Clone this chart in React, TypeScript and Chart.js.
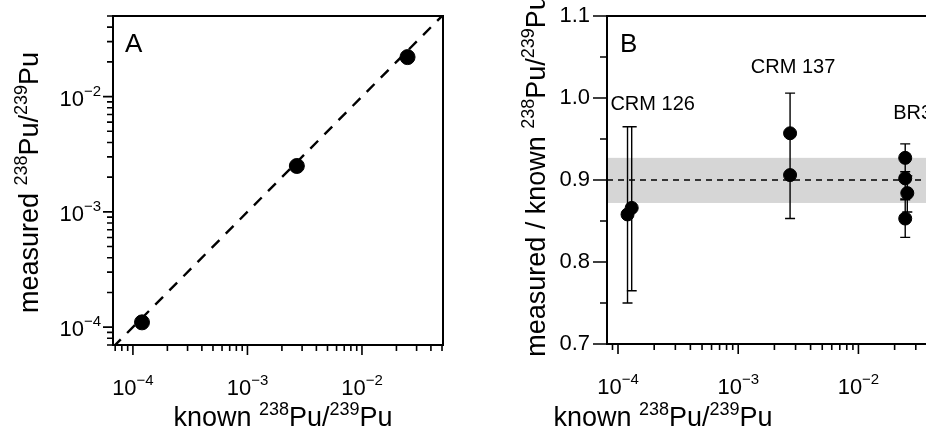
import React, { useEffect, useRef } from 'react'
import { Chart, registerables } from 'chart.js'
Chart.register(...registerables)

// panel A: measured vs known
const knownA = [1.2e-4, 2.7e-3, 2.5e-2]
const measuredA = [1.1e-4, 2.5e-3, 2.2e-2]

// panel B: measured / known ratio
const knownB = [1.2e-4, 1.3e-4, 2.7e-3, 2.7e-3, 2.45e-2, 2.45e-2, 2.55e-2, 2.45e-2]
const ratioB = [0.858, 0.866, 0.957, 0.906, 0.927, 0.902, 0.884, 0.853]
const lowB = [0.75, 0.765, 0.907, 0.853, 0.91, 0.877, 0.861, 0.83]
const highB = [0.965, 0.965, 1.006, 0.957, 0.944, 0.927, 0.905, 0.876]
const meanB = 0.9
const bandB = [0.872, 0.927]
const groupLabels = ['CRM 126', 'CRM 137', 'BR3']
const groupLabelX = [1.25e-4, 2.7e-3, 2.5e-2]
const groupLabelY = [0.985, 1.03, 0.975]

const decades = [-4, -3, -2]
const FONT = '"Liberation Sans", Arial, sans-serif'

type Seg = { t: string; sup?: boolean }
const titleSegs = (prefix: string): Seg[] => [
  { t: prefix }, { t: '238', sup: true }, { t: 'Pu/' }, { t: '239', sup: true }, { t: 'Pu' },
]

function drawSegs(ctx: CanvasRenderingContext2D, segs: Seg[], x: number, y: number, size: number, align: 'center' | 'left') {
  const big = `${size}px ${FONT}`
  const small = `${Math.round(size * 0.68)}px ${FONT}`
  let w = 0
  segs.forEach((s) => { ctx.font = s.sup ? small : big; w += ctx.measureText(s.t).width })
  let cx = align === 'center' ? x - w / 2 : x
  ctx.textAlign = 'left'
  ctx.textBaseline = 'alphabetic'
  segs.forEach((s) => {
    ctx.font = s.sup ? small : big
    ctx.fillText(s.t, cx, s.sup ? y - size * 0.42 : y)
    cx += ctx.measureText(s.t).width
  })
}

function logTicks(ctx: CanvasRenderingContext2D, chart: any, withY: boolean, xEnd: number) {
  const { left, top, bottom } = chart.chartArea
  const sx = chart.scales.x
  ctx.beginPath()
  for (let e = -5; e <= -1; e++) {
    for (let m = 1; m < 10; m++) {
      const v = m * Math.pow(10, e)
      const px = sx.getPixelForValue(v)
      if (px < left - 0.5 || px > xEnd + 0.5) continue
      const len = m === 1 ? 10 : 6
      ctx.moveTo(px, bottom); ctx.lineTo(px, bottom + len)
    }
  }
  if (withY) {
    const sy = chart.scales.y
    for (let e = -5; e <= -1; e++) {
      for (let m = 1; m < 10; m++) {
        const v = m * Math.pow(10, e)
        const py = sy.getPixelForValue(v)
        if (py < top - 0.5 || py > bottom + 0.5) continue
        const len = m === 1 ? 10 : 6
        ctx.moveTo(left, py); ctx.lineTo(left - len, py)
      }
    }
  }
  ctx.stroke()
}

function powLabel(ctx: CanvasRenderingContext2D, e: number, x: number, y: number, align: 'center' | 'right') {
  ctx.font = `22px ${FONT}`
  const wb = ctx.measureText('10').width
  ctx.font = `15px ${FONT}`
  const es = '\u2212' + Math.abs(e)
  const we = ctx.measureText(es).width
  const x0 = align === 'center' ? x - (wb + we) / 2 : x - wb - we
  ctx.textAlign = 'left'
  ctx.textBaseline = 'alphabetic'
  ctx.font = `22px ${FONT}`
  ctx.fillText('10', x0, y)
  ctx.font = `15px ${FONT}`
  ctx.fillText(es, x0 + wb, y - 10)
}

const panelA = {
  id: 'panelA',
  afterDraw(chart: any) {
    const ctx = chart.ctx as CanvasRenderingContext2D
    const { left, right, top, bottom } = chart.chartArea
    ctx.save()
    ctx.strokeStyle = '#000'
    ctx.fillStyle = '#000'
    ctx.lineWidth = 2
    ctx.strokeRect(left, top, right - left, bottom - top)
    ctx.lineWidth = 1.6
    logTicks(ctx, chart, true, right)
    decades.forEach((e) => {
      powLabel(ctx, e, chart.scales.x.getPixelForValue(Math.pow(10, e)), bottom + 50, 'center')
      powLabel(ctx, e, left - 12, chart.scales.y.getPixelForValue(Math.pow(10, e)) + 9, 'right')
    })
    ctx.font = `26px ${FONT}`
    ctx.textAlign = 'left'
    ctx.fillText('A', left + 12, top + 36)
    drawSegs(ctx, titleSegs('known '), (left + right) / 2 + 5, 426, 27, 'center')
    ctx.translate(38, (top + bottom) / 2 + 2)
    ctx.rotate(-Math.PI / 2)
    drawSegs(ctx, titleSegs('measured '), 0, 0, 27, 'center')
    ctx.restore()
  },
}

const panelB = {
  id: 'panelB',
  beforeDatasetsDraw(chart: any) {
    const ctx = chart.ctx as CanvasRenderingContext2D
    const { left } = chart.chartArea
    const right = chart.width
    const sy = chart.scales.y
    const sx = chart.scales.x
    ctx.save()
    ctx.fillStyle = '#d6d6d6'
    const y1 = sy.getPixelForValue(bandB[1])
    const y0 = sy.getPixelForValue(bandB[0])
    ctx.fillRect(left, y1, right - left, y0 - y1)
    ctx.strokeStyle = '#000'
    ctx.lineWidth = 1.5
    ctx.setLineDash([6, 5])
    ctx.beginPath()
    ctx.moveTo(left, sy.getPixelForValue(meanB)); ctx.lineTo(right, sy.getPixelForValue(meanB))
    ctx.stroke()
    ctx.setLineDash([])
    ctx.lineWidth = 1.4
    ctx.beginPath()
    knownB.forEach((k, i) => {
      const px = sx.getPixelForValue(k)
      const a = sy.getPixelForValue(lowB[i])
      const b = sy.getPixelForValue(highB[i])
      ctx.moveTo(px, a); ctx.lineTo(px, b)
      ctx.moveTo(px - 5, a); ctx.lineTo(px + 5, a)
      ctx.moveTo(px - 5, b); ctx.lineTo(px + 5, b)
    })
    ctx.stroke()
    ctx.restore()
  },
  afterDraw(chart: any) {
    const ctx = chart.ctx as CanvasRenderingContext2D
    const { left, top, bottom } = chart.chartArea
    const right = chart.width
    const sx = chart.scales.x
    const sy = chart.scales.y
    ctx.save()
    ctx.strokeStyle = '#000'
    ctx.fillStyle = '#000'
    ctx.lineWidth = 2
    ctx.beginPath()
    ctx.moveTo(right, top); ctx.lineTo(left, top); ctx.lineTo(left, bottom); ctx.lineTo(right, bottom)
    ctx.stroke()
    ctx.lineWidth = 1.6
    logTicks(ctx, chart, false, right)
    ctx.beginPath()
    for (let v = 0.7; v <= 1.1001; v += 0.05) {
      const py = sy.getPixelForValue(v)
      const major = Math.round(v * 100) % 10 === 0
      ctx.moveTo(left, py); ctx.lineTo(left - (major ? 14 : 7), py)
    }
    ctx.stroke()
    ctx.font = `22px ${FONT}`
    ctx.textAlign = 'right'
    ctx.textBaseline = 'middle'
    ;[0.7, 0.8, 0.9, 1.0, 1.1].forEach((v) => ctx.fillText(v.toFixed(1), left - 17, sy.getPixelForValue(v)))
    decades.forEach((e) => powLabel(ctx, e, sx.getPixelForValue(Math.pow(10, e)), bottom + 50, 'center'))
    ctx.font = `26px ${FONT}`
    ctx.textAlign = 'left'
    ctx.textBaseline = 'alphabetic'
    ctx.fillText('B', left + 13, top + 36)
    ctx.font = `20px ${FONT}`
    groupLabels.forEach((g, i) => {
      ctx.textAlign = i === 2 ? 'left' : 'center'
      const px = sx.getPixelForValue(groupLabelX[i]) + (i === 0 ? 23 : i === 2 ? -13 : 3)
      ctx.fillText(g, px, sy.getPixelForValue(groupLabelY[i]))
    })
    drawSegs(ctx, titleSegs('known '), 200, 426, 27, 'center')
    ctx.translate(82, (top + bottom) / 2 - 4)
    ctx.rotate(-Math.PI / 2)
    drawSegs(ctx, titleSegs('measured / known '), 0, 0, 27, 'center')
    ctx.restore()
  },
}

const hidden = (extra: any) => ({
  ...extra,
  ticks: { display: false },
  grid: { display: false },
  border: { display: false },
  afterFit: (s: any) => { if (s.isHorizontal()) s.height = 0; else s.width = 0 },
})

export default function App() {
  const refA = useRef<HTMLCanvasElement | null>(null)
  const refB = useRef<HTMLCanvasElement | null>(null)

  useEffect(() => {
    if (!refA.current || !refB.current) return
    const a = new Chart(refA.current, {
      type: 'scatter',
      data: {
        datasets: [
          {
            type: 'line',
            data: [{ x: 6.7e-5, y: 6.7e-5 }, { x: 0.051, y: 0.051 }],
            borderColor: '#000', borderWidth: 2.4, borderDash: [11, 9], pointRadius: 0,
          } as any,
          {
            data: knownA.map((k, i) => ({ x: k, y: measuredA[i] })),
            backgroundColor: '#000', borderColor: '#000', pointRadius: 7.5,
          },
        ],
      },
      options: {
        animation: false, responsive: false,
        layout: { padding: { left: 113, right: 20, top: 16, bottom: 91 } },
        plugins: { legend: { display: false }, tooltip: { enabled: false } },
        scales: {
          x: hidden({ type: 'logarithmic', min: 6.7e-5, max: 0.051 }),
          y: hidden({ type: 'logarithmic', min: 7e-5, max: 0.05 }),
        },
      },
      plugins: [panelA],
    })
    const b = new Chart(refB.current, {
      type: 'scatter',
      data: {
        datasets: [{
          data: knownB.map((k, i) => ({ x: k, y: ratioB[i] })),
          backgroundColor: '#000', borderColor: '#000', pointRadius: 6.5,
        }],
      },
      options: {
        animation: false, responsive: false,
        layout: { padding: { left: 144, right: 0, top: 16, bottom: 92 } },
        plugins: { legend: { display: false }, tooltip: { enabled: false } },
        scales: {
          x: hidden({ type: 'logarithmic', min: 8.1e-5, max: 0.0316 }),
          y: hidden({ type: 'linear', min: 0.7, max: 1.1 }),
        },
      },
      plugins: [panelB],
    })
    return () => { a.destroy(); b.destroy() }
  }, [])

  return (
    <div style={{ position: 'fixed', left: 0, top: 0, width: 926, height: 436, background: '#fff', display: 'flex' }}>
      <canvas ref={refA} width={463} height={436} style={{ width: 463, height: 436 }} />
      <canvas ref={refB} width={463} height={436} style={{ width: 463, height: 436 }} />
    </div>
  )
}
